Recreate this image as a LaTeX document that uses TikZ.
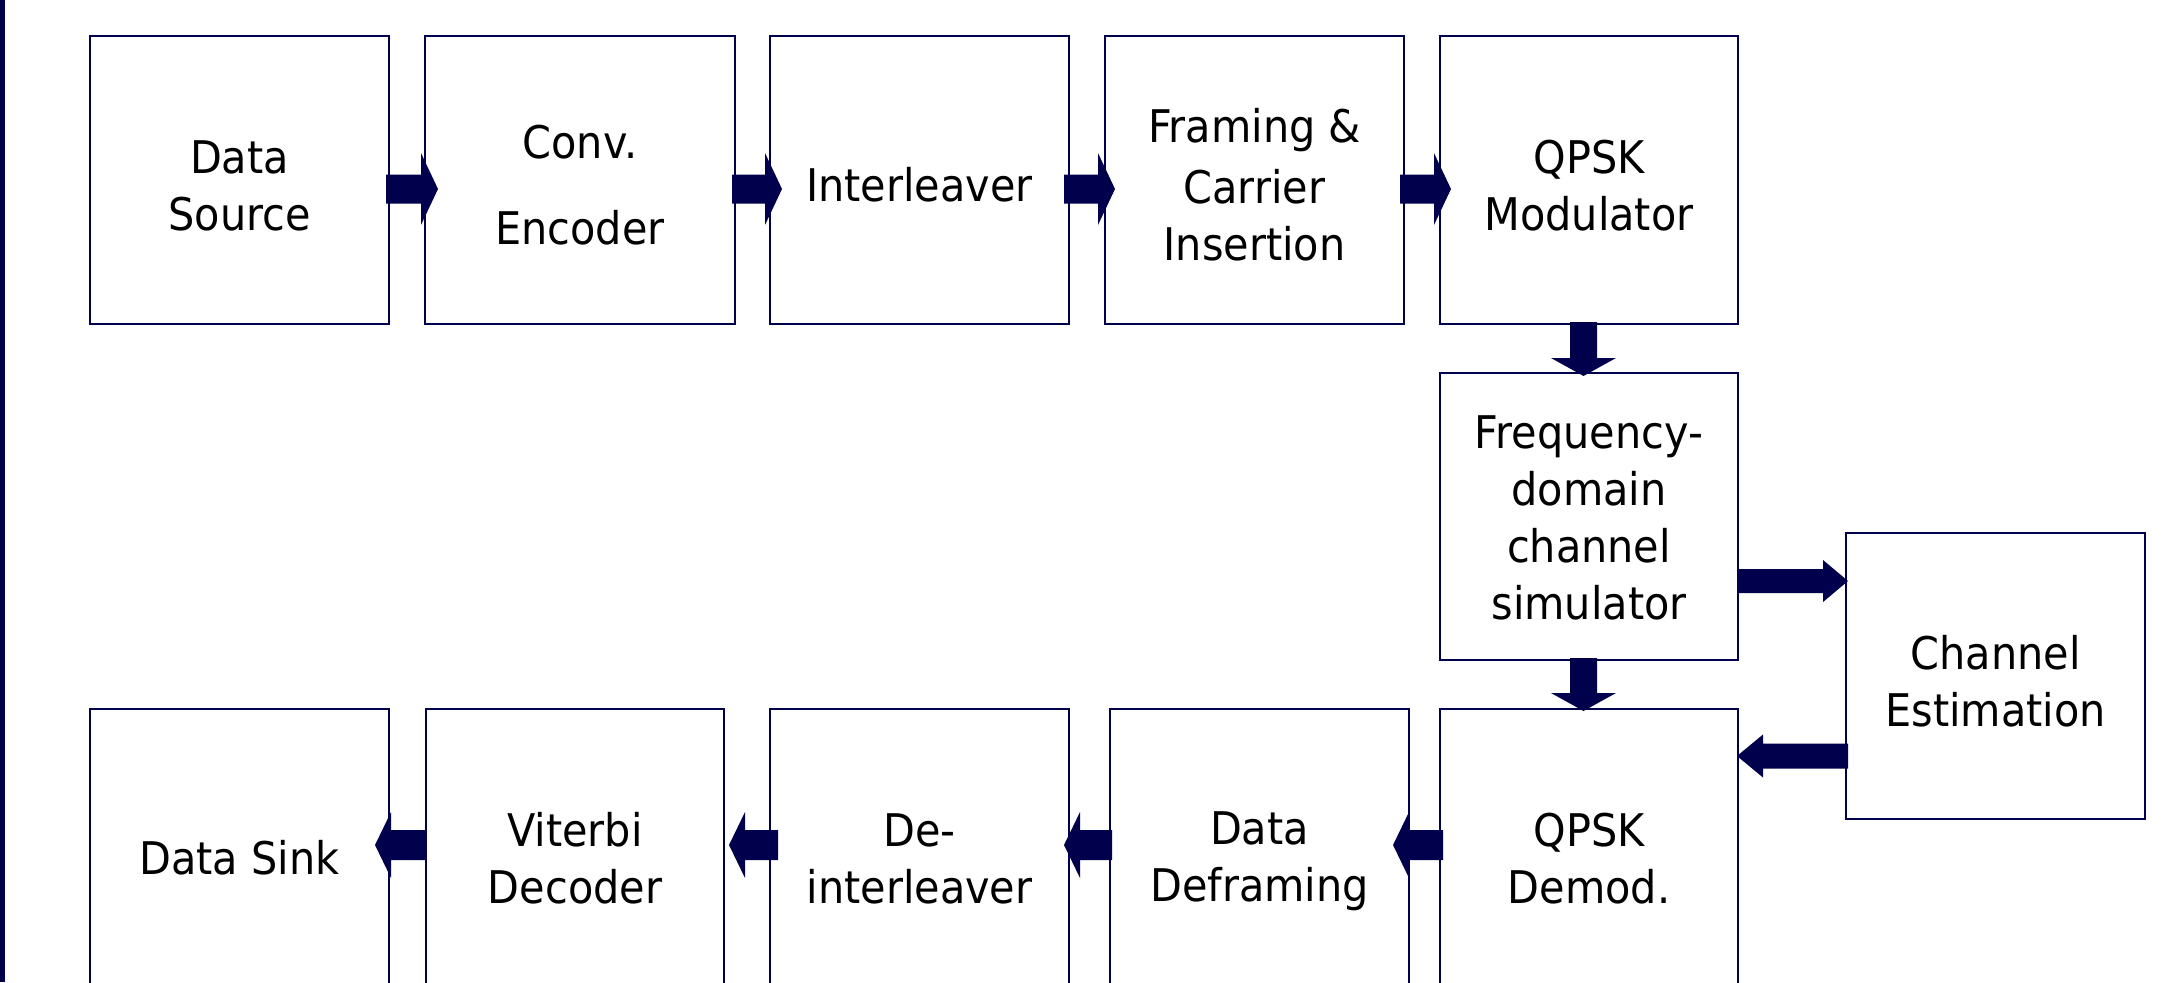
\documentclass[tikz,border=0pt]{standalone}
\usepackage{fontspec}
\setmainfont{DejaVu Sans}[FakeStretch=0.92]
\usetikzlibrary{calc}
\definecolor{navyc}{RGB}{0,0,77}
\newcommand{\ls}{\rule[-5.2pt]{0pt}{42.75pt}}
\newcommand{\lsf}{\rule[-8.3pt]{0pt}{42.75pt}}
\tikzset{
  blk/.style={draw=navyc, line width=1.5pt, fill=white, inner sep=0pt, outer sep=0pt,
    align=center, text=black, font=\fontsize{33.75}{42.75}\selectfont},
  sz/.style 2 args={minimum width=#1*0.75pt, minimum height=#2*0.75pt},
  arrowfill/.style={fill=navyc}
}
% #1 start coordinate, #2 tip coordinate, #3 shaft half width, #4 head half width, #5 head length
\newcommand{\barrow}[5]{%
  \coordinate (hb) at ($(#2)!#5!(#1)$);
  \fill[arrowfill] ($(#1)!#3!90:(#2)$) -- ($(hb)!#3!90:(#2)$) -- ($(hb)!#4!90:(#2)$) -- (#2)
    -- ($(hb)!#4!-90:(#2)$) -- ($(hb)!#3!-90:(#2)$) -- ($(#1)!#3!-90:(#2)$) -- cycle;
}
\begin{document}
\begin{tikzpicture}[x=0.75pt,y=-0.75pt]
\useasboundingbox (0,0) rectangle (2171,982);
\clip (0,0) rectangle (2171,982);
\fill[white] (0,0) rectangle (2171,982);
\fill[navyc] (0,0) rectangle (5,982);

% top row
\node[blk, sz={299}{288}] (ds) at (239.5,180) {\ls Data\\\ls Source};
\node[blk, sz={310}{288}] (ce) at (580,180) {\ls Conv.\\[21.75pt]\ls Encoder};
\node[blk, sz={299}{288}] (il) at (919.5,180) {\ls Interleaver};
\node[blk, sz={299}{288}] (fr) at (1254.5,180) {\ls Framing \&\\\ls Carrier\\\ls Insertion};
\node[blk, sz={298}{288}] (qm) at (1589,180) {\ls QPSK\\\ls Modulator};
% middle
\node[blk, sz={298}{287}] (fd) at (1589,516.5) {\lsf Frequency-\\\lsf domain\\\lsf channel\\\lsf simulator};
\node[blk, sz={299}{286}] (cest) at (1995.5,676) {\ls Channel\\\ls Estimation};
% bottom row
\node[blk, sz={299}{288}] (dsk) at (239.5,853) {\ls Data Sink};
\node[blk, sz={298}{288}] (vd) at (575,853) {\ls Viterbi\\\ls Decoder};
\node[blk, sz={299}{288}] (di) at (919.5,853) {\ls De-\\\ls interleaver};
\node[blk, sz={299}{288}] (df) at (1259.5,853) {\ls Data\\\ls Deframing};
\node[blk, sz={298}{288}] (qd) at (1589,853) {\ls QPSK\\\ls Demod.};

% reference levels
\coordinate (ytop) at (0,189);
\coordinate (ybot) at (0,845);
\coordinate (yr1) at (0,581);
\coordinate (yr2) at (0,756);
\coordinate (xv) at (1583.5,0);

% top row arrows
\coordinate (a1s) at ($(ds.east |- ytop)+(-3,0)$);  \coordinate (a1t) at ($(ce.west |- ytop)+(13,0)$);
\coordinate (a2s) at ($(ce.east |- ytop)+(-3,0)$);  \coordinate (a2t) at ($(il.west |- ytop)+(12,0)$);
\coordinate (a3s) at ($(il.east |- ytop)+(-5,0)$);  \coordinate (a3t) at ($(fr.west |- ytop)+(10,0)$);
\coordinate (a4s) at ($(fr.east |- ytop)+(-4,0)$);  \coordinate (a4t) at ($(qm.west |- ytop)+(11,0)$);
\barrow{a1s}{a1t}{10.875pt}{27pt}{12.75pt}
\barrow{a2s}{a2t}{10.875pt}{27pt}{12.75pt}
\barrow{a3s}{a3t}{10.875pt}{27pt}{12.75pt}
\barrow{a4s}{a4t}{10.875pt}{27pt}{12.75pt}

% vertical arrows
\coordinate (v1s) at ($(qm.south -| xv)+(0,-2)$); \coordinate (v1t) at ($(fd.north -| xv)+(0,3)$);
\coordinate (v2s) at ($(fd.south -| xv)+(0,-2)$); \coordinate (v2t) at ($(qd.north -| xv)+(0,2)$);
\barrow{v1s}{v1t}{10.125pt}{24.375pt}{13.5pt}
\barrow{v2s}{v2t}{10.125pt}{24.375pt}{13.5pt}

% to / from channel estimation
\coordinate (r1s) at (fd.east |- yr1); \coordinate (r1t) at ($(cest.west |- yr1)+(2,0)$);
\coordinate (r2s) at ($(cest.west |- yr2)+(2,0)$); \coordinate (r2t) at ($(qd.east |- yr2)+(-1,0)$);
\barrow{r1s}{r1t}{9pt}{15.75pt}{18.75pt}
\barrow{r2s}{r2t}{9.375pt}{16.125pt}{19.5pt}

% bottom row arrows
\coordinate (b1s) at (vd.west |- ybot); \coordinate (b1t) at ($(dsk.east |- ybot)+(-14,0)$);
\coordinate (b2s) at ($(di.west |- ybot)+(8,0)$); \coordinate (b2t) at ($(vd.east |- ybot)+(5,0)$);
\coordinate (b3s) at ($(df.west |- ybot)+(2,0)$); \coordinate (b3t) at ($(di.east |- ybot)+(-5,0)$);
\coordinate (b4s) at ($(qd.west |- ybot)+(3,0)$); \coordinate (b4t) at ($(df.east |- ybot)+(-16,0)$);
\barrow{b1s}{b1t}{11.25pt}{24.75pt}{12pt}
\barrow{b2s}{b2t}{11.25pt}{24.75pt}{12pt}
\barrow{b3s}{b3t}{11.25pt}{24.75pt}{12pt}
\barrow{b4s}{b4t}{11.25pt}{24.75pt}{12pt}
\end{tikzpicture}
\end{document}
